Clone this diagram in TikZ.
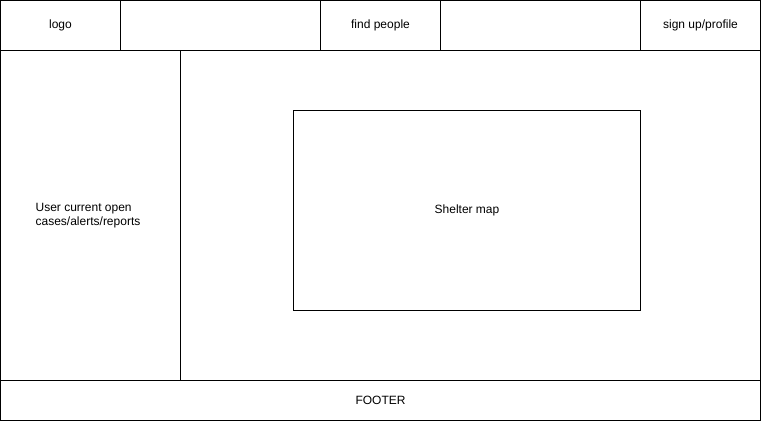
\documentclass[tikz,border=0pt]{standalone}
\usepackage{fontspec}
\setmainfont{Liberation Sans}
\begin{document}
\begin{tikzpicture}[x=1pt,y=-1pt,
  panel/.style={draw=black,line width=0.8pt,fill=white,inner sep=0pt,font=\fontsize{12}{14}\selectfont},
  lbl/.style={font=\fontsize{12}{14}\selectfont,inner sep=0pt}]
\useasboundingbox (0,0) rectangle (761,421);
% header bar
\draw[panel] (0.5,0.5) rectangle (120.5,50.5);
\draw[panel] (120.5,0.5) rectangle (320.5,50.5);
\draw[panel] (320.5,0.5) rectangle (440.5,50.5);
\draw[panel] (440.5,0.5) rectangle (640.5,50.5);
\draw[panel] (640.5,0.5) rectangle (760.5,50.5);
\node[lbl] (logo) at (60.5,25) {logo};
\node[lbl] (find) at (380.5,25) {find people};
\node[lbl] (sign) at (700.5,25) {sign up/profile};
% body
\draw[panel] (0.5,50.5) rectangle (180.5,380.5);
\draw[panel] (180.5,50.5) rectangle (760.5,380.5);
\node[lbl,align=left] (cases) at (88,215.5) {User current open\\cases/alerts/reports};
\draw[panel] (293.5,110.5) rectangle (640.5,310.5);
\node[lbl] (map) at (467,210.5) {Shelter map};
% footer
\draw[panel] (0.5,380.5) rectangle (760.5,420.5);
\node[lbl] (footer) at (380.5,400) {FOOTER};
\end{tikzpicture}
\end{document}
